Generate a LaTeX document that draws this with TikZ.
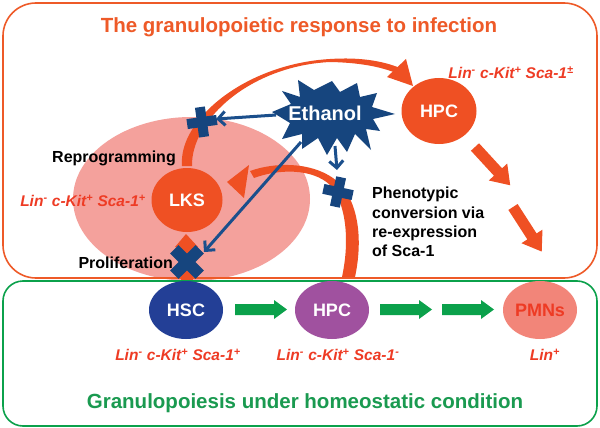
\documentclass[tikz,border=0pt]{standalone}
\usepackage{fontspec}
\setmainfont{Liberation Sans}
\usetikzlibrary{shapes.geometric,arrows.meta}
\definecolor{ored}{HTML}{EF5023}
\definecolor{titleor}{HTML}{EE5A28}
\definecolor{labred}{HTML}{EE3B24}
\definecolor{pinkel}{HTML}{F4A19C}
\definecolor{xblue}{HTML}{16457E}
\definecolor{ablue}{HTML}{1B4F8C}
\definecolor{hscblue}{HTML}{233F96}
\definecolor{hpcpurple}{HTML}{A0519F}
\definecolor{pmnpink}{HTML}{F28579}
\definecolor{gr}{HTML}{0BA14B}
\definecolor{grtitle}{HTML}{1A9A50}
\newcommand\blockarr[7]{\begin{scope}[shift={#1},rotate=#2]\fill[#7] (0,-#4) -- ({#3-#6},-#4) -- ({#3-#6},-#5) -- (#3,0) -- ({#3-#6},#5) -- ({#3-#6},#4) -- (0,#4) -- cycle;\end{scope}}
\begin{document}
\begin{tikzpicture}[x=1pt,y=-1pt,
  cell/.style={ellipse, inner sep=0pt, text=white, font=\bfseries\fontsize{18}{20}\selectfont},
  lbl/.style={text=labred, font=\bfseries\itshape\fontsize{15.5}{18}\selectfont, inner sep=0pt},
  blk/.style={text=black, font=\bfseries\fontsize{16}{19.3}\selectfont, inner sep=0pt},
  ttl/.style={font=\bfseries\fontsize{20.5}{24}\selectfont, inner sep=0pt},
  bar/.style={draw=ablue, line width=3pt, -{Straight Barb[length=7pt,width=14pt]}},
  plusmark/.pic={\fill[xblue] (-15,-5) -- (-5,-5) -- (-5,-15) -- (5,-15) -- (5,-5) -- (15,-5) -- (15,5) -- (5,5) -- (5,15) -- (-5,15) -- (-5,5) -- (-15,5) -- cycle;}]
\useasboundingbox (0,0) rectangle (600,428);
\fill[white] (0,0) rectangle (600,428);
% pink ellipse
\fill[pinkel] (191.5,199) ellipse (118.5 and 82);
% frames
\draw[titleor, line width=1.6pt, rounded corners=33pt] (3,3) rectangle (597,278);
\draw[gr, line width=1.6pt, rounded corners=20pt] (3,281) rectangle (597,426);
% titles
\node[ttl, text=titleor] (t1) at (299,27) {The granulopoietic response to infection};
\node[ttl, text=grtitle] (t2) at (305,403) {Granulopoiesis under homeostatic condition};
% cells
\node[cell, fill=ored, minimum width=75pt, minimum height=66pt] (hpctop) at (439,111) {HPC};
\node[cell, fill=ored, minimum width=71pt, minimum height=64pt] (lks) at (187,200) {LKS};
\node[cell, fill=hscblue, minimum width=74pt, minimum height=58pt] (hsc) at (186,310) {HSC};
\node[cell, fill=hpcpurple, minimum width=74pt, minimum height=58pt] (hpc) at (332,310) {HPC};
\node[cell, fill=pmnpink, text=labred, minimum width=74pt, minimum height=58pt] (pmn) at (540,310) {PMNs};
% green arrows
\blockarr{(235,309.5)}{0}{52}{5.5}{9.5}{13}{gr}
\blockarr{(380,309.5)}{0}{52}{5.5}{9.5}{13}{gr}
\blockarr{(442,309.5)}{0}{52}{5.5}{9.5}{13}{gr}
% orange straight arrows
\blockarr{(475,147)}{-47.4}{52}{5.5}{12.5}{18}{ored}
\blockarr{(513,207)}{-57.2}{53}{5.5}{12.5}{18}{ored}
% curved arrow: reprogramming
\fill[ored] (182,166) .. controls (178,120) and (245,64) .. (330,59) .. controls (360,57) and (383,61) .. (400,68)
  -- (396,73) .. controls (380,66.5) and (358,62.5) .. (330,62) .. controls (250,66) and (191,120) .. (192,166) -- cycle;
\fill[ored] (413,86) -- (387,77) -- (406,59) -- cycle;
% curved arrow: phenotypic conversion
\fill[ored] (355,277) .. controls (364,235) and (357,195) .. (333,178) .. controls (310,162) and (275,162) .. (250,171)
  -- (254,178) .. controls (278,169) and (312,168) .. (330,185) .. controls (346,203) and (350,240) .. (342,277) -- cycle;
\fill[ored] (227,182) -- (249,165) -- (244,198) -- cycle;
% proliferation arrow
\fill[ored] (181,280) rectangle (193,246);
\fill[ored] (175,247) -- (186,234) -- (198,247) -- cycle;
% ethanol star
\fill[xblue] (272,112) -- (291,104) -- (282,91) -- (300,97) -- (298,80) -- (314,90) -- (332,81) -- (340,92) -- (357,83) -- (360,97) -- (377,93) -- (372,107) -- (395,114) -- (373,119) -- (380,131) -- (366,129) -- (371,150) -- (355,134) -- (347,152) -- (337,138) -- (327,155) -- (318,138) -- (302,149) -- (302,134) -- (282,139) -- (290,123) -- cycle;
\node[text=white, font=\bfseries\fontsize{20}{22}\selectfont, inner sep=0pt] (eth) at (325,113) {Ethanol};
% blue arrows
\coordinate (e1) at (276,115);
\coordinate (e2) at (335,146);
\coordinate (e3) at (301,142);
\coordinate (x1) at (216,119);
\coordinate (x2) at (337,170);
\coordinate (x3) at (204,252);
\draw[bar] (e1) -- (x1);
\draw[bar] (e2) -- (x2);
\draw[bar] (e3) -- (x3);
% crosses
\pic[rotate=8] (cr1) at (202,122) {plusmark};
\pic[rotate=-12] (cr2) at (338,192) {plusmark};
\pic[rotate=45, scale=1.2] (cr3) at (187,262) {plusmark};
% black labels
\node[blk, anchor=east] (rep) at (176,158) {Reprogramming};
\node[blk, anchor=east] (pro) at (173,263) {Proliferation};
\node[blk, anchor=north west, align=left] (phe) at (372,187) {Phenotypic\\conversion via\\re-expression\\of Sca-1};
% italic labels
\node[lbl] (l1) at (511,73) {Lin\textsuperscript{-} c-Kit\textsuperscript{+} Sca-1\textsuperscript{±}};
\node[lbl] (l2) at (83,201) {Lin\textsuperscript{-} c-Kit\textsuperscript{+} Sca-1\textsuperscript{+}};
\node[lbl] (l3) at (178,355) {Lin\textsuperscript{-} c-Kit\textsuperscript{+} Sca-1\textsuperscript{+}};
\node[lbl] (l4) at (338,355) {Lin\textsuperscript{-} c-Kit\textsuperscript{+} Sca-1\textsuperscript{-}};
\node[lbl] (l5) at (545,355) {Lin\textsuperscript{+}};
\end{tikzpicture}
\end{document}
